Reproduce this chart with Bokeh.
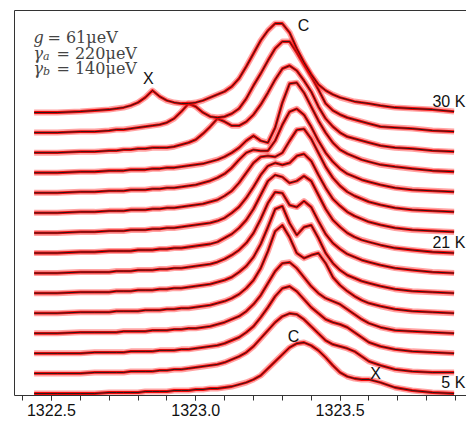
from bokeh.plotting import figure
from bokeh.models import Range1d, FixedTicker, Label, LinearAxis, PrintfTickFormatter
from bokeh.embed import file_html
from bokeh.resources import INLINE

# wavelength grid (nm)
wl = [1322.44, 1322.52, 1322.60, 1322.65,
      1322.700, 1322.725, 1322.750, 1322.775, 1322.800, 1322.825, 1322.850, 1322.875,
      1322.900, 1322.925, 1322.950, 1322.975, 1323.000, 1323.025, 1323.050, 1323.075,
      1323.100, 1323.125, 1323.150, 1323.175, 1323.200, 1323.225, 1323.250, 1323.275,
      1323.300, 1323.325, 1323.350, 1323.375, 1323.400, 1323.425, 1323.450, 1323.475,
      1323.500, 1323.525, 1323.550, 1323.575, 1323.600,
      1323.64, 1323.69, 1323.75, 1323.82, 1323.895]

# spectra, bottom (5 K) to top (30 K), arbitrary intensity units
spec_00 = [0, 0, 0, 0, 1, 1, 1, 1, 1, 2, 2, 2, 2, 3, 3, 3, 4, 4, 5, 5, 6, 7, 9, 11, 14, 18, 25, 32, 39, 46, 50, 51, 48, 43, 36, 28, 21, 17, 15, 14, 14, 11, 6, 3, 1, 0]
spec_01 = [0, 0, 0, 1, 1, 1, 1, 2, 2, 2, 2, 3, 3, 4, 4, 5, 6, 7, 8, 9, 11, 14, 17, 21, 27, 35, 43, 51, 57, 60, 59, 54, 47, 40, 33, 29, 27, 25, 22, 17, 12, 8, 4, 2, 1, 1]
spec_02 = [0, 0, 0, 1, 1, 1, 1, 2, 2, 2, 2, 3, 3, 3, 4, 4, 5, 6, 7, 8, 10, 13, 16, 21, 27, 36, 46, 57, 65, 67, 62, 54, 46, 40, 34, 31, 29, 26, 21, 16, 11, 7, 4, 2, 1, 0]
spec_03 = [0, 0, 1, 1, 1, 1, 2, 2, 2, 2, 3, 3, 3, 4, 4, 5, 5, 6, 7, 9, 11, 14, 17, 22, 29, 38, 50, 62, 70, 71, 65, 56, 47, 40, 35, 32, 29, 24, 19, 14, 10, 6, 3, 2, 1, 0]
spec_04 = [0, 0, 1, 1, 1, 2, 2, 2, 2, 3, 3, 3, 4, 4, 5, 5, 6, 7, 8, 10, 12, 15, 19, 25, 33, 45, 62, 82, 88, 76, 60, 55, 58, 60, 50, 36, 28, 22, 17, 13, 10, 7, 4, 2, 1, 0]
spec_05 = [0, 0, 1, 1, 1, 2, 2, 2, 3, 3, 3, 4, 4, 5, 5, 6, 7, 8, 9, 11, 13, 16, 21, 27, 36, 49, 66, 84, 87, 70, 58, 66, 68, 55, 40, 30, 23, 18, 15, 12, 10, 7, 4, 2, 1, 0]
spec_06 = [0, 0, 1, 1, 1, 2, 2, 2, 3, 3, 3, 4, 4, 5, 5, 6, 7, 8, 9, 11, 14, 18, 23, 30, 40, 54, 70, 81, 80, 68, 66, 72, 66, 52, 39, 30, 24, 19, 16, 13, 11, 8, 5, 3, 1, 0]
spec_07 = [0, 0, 1, 1, 2, 2, 2, 2, 3, 3, 3, 4, 4, 5, 5, 6, 7, 8, 9, 11, 15, 19, 25, 33, 44, 58, 72, 78, 76, 70, 72, 77, 72, 58, 44, 33, 26, 20, 16, 13, 11, 8, 5, 3, 1, 0]
spec_08 = [0, 0, 1, 1, 2, 2, 2, 3, 3, 3, 4, 4, 5, 5, 6, 7, 8, 9, 10, 12, 15, 20, 26, 35, 46, 58, 67, 70, 68, 70, 77, 79, 72, 58, 45, 34, 27, 21, 17, 14, 11, 8, 5, 3, 2, 1]
spec_09 = [0, 0, 1, 1, 2, 2, 2, 3, 3, 3, 4, 4, 5, 5, 6, 7, 8, 9, 11, 13, 17, 22, 30, 40, 50, 56, 57, 56, 60, 72, 83, 84, 74, 60, 46, 35, 27, 21, 17, 14, 11, 8, 5, 3, 2, 1]
spec_10 = [0, 0, 1, 1, 2, 2, 2, 3, 3, 3, 4, 4, 5, 5, 6, 7, 8, 10, 12, 15, 19, 25, 33, 40, 43, 42, 42, 52, 68, 81, 84, 78, 66, 52, 40, 31, 24, 19, 16, 13, 11, 8, 5, 3, 2, 1]
spec_11 = [0, 0, 1, 1, 2, 2, 2, 3, 3, 3, 4, 4, 5, 5, 6, 7, 8, 9, 11, 13, 16, 20, 25, 32, 37, 32, 30, 45, 70, 89, 90, 80, 66, 52, 40, 30, 23, 19, 16, 13, 11, 8, 6, 4, 2, 1]
spec_12 = [0, 0, 1, 1, 2, 2, 3, 3, 4, 4, 5, 5, 5, 6, 8, 10, 13, 19, 26, 34, 31, 27, 27, 31, 38, 48, 60, 73, 84, 87, 82, 72, 61, 46, 34, 26, 20, 16, 14, 12, 10, 7, 5, 4, 2, 1]
spec_13 = [0, 0, 1, 1, 2, 3, 3, 4, 5, 6, 7, 8, 10, 14, 21, 29, 26, 20, 16, 15, 16, 19, 24, 34, 47, 59, 72, 84, 91, 91, 80, 68, 56, 43, 29, 22, 18, 15, 13, 11, 9, 6, 5, 4, 2, 1]
spec_14 = [0, 0, 1, 2, 3, 4, 5, 7, 10, 15, 22, 16, 12, 10, 9, 9, 10, 12, 15, 18, 21, 26, 34, 46, 59, 72, 82, 89, 89, 80, 64, 50, 38, 28, 22, 18, 15, 13, 11, 10, 9, 7, 5, 4, 3, 1]

spectra = [spec_00, spec_01, spec_02, spec_03, spec_04, spec_05, spec_06, spec_07,
           spec_08, spec_09, spec_10, spec_11, spec_12, spec_13, spec_14]

temp_index = [0, 7, 14]
temp_labels = ["5 K", "21 K", "30 K"]

major_ticks = [1322.5, 1323.0, 1323.5]
minor_ticks = [1322.4, 1322.5, 1322.6, 1322.7, 1322.8, 1322.9, 1323.0, 1323.1,
               1323.2, 1323.3, 1323.4, 1323.5, 1323.6, 1323.7, 1323.8, 1323.9]

offset_step = 20.07

p = figure(width=466, height=423, output_backend="svg", toolbar_location=None,
           x_range=Range1d(1322.372, 1323.938), y_range=Range1d(-2, 383),
           min_border_left=14, min_border_right=0, min_border_top=10, min_border_bottom=28,
           y_axis_location=None)
p.grid.visible = False
p.outline_line_color = None
p.background_fill_color = "white"
p.border_fill_color = "white"

ax = p.xaxis[0]
ax.ticker = FixedTicker(ticks=major_ticks, minor_ticks=minor_ticks)
ax.formatter = PrintfTickFormatter(format="%.1f")
ax.axis_line_color = "#333333"
ax.major_tick_line_color = "#333333"
ax.minor_tick_line_color = "#333333"
ax.major_tick_in = 0
ax.major_tick_out = 5
ax.minor_tick_in = 0
ax.minor_tick_out = 5
ax.major_label_text_font = "Liberation Sans"
ax.major_label_text_font_size = "16px"
ax.major_label_text_color = "#111111"
ax.major_label_standoff = 3

for loc in ("left", "above"):
    a = LinearAxis(ticker=FixedTicker(ticks=[]), major_tick_out=0, major_tick_in=0,
                   minor_tick_out=0, minor_tick_in=0, major_label_standoff=0,
                   axis_line_color="#333333")
    p.add_layout(a, loc)

for i, s in enumerate(spectra):
    y = [v + i * offset_step for v in s]
    p.line(wl, y, line_color="#ff1a1a", line_width=6, line_alpha=0.4, line_join="round")
    p.line(wl, y, line_color="#f00000", line_width=2.8, line_alpha=0.95, line_join="round")
    p.line(wl, y, line_color="#1a1a1a", line_width=0.9, line_join="round")

for idx, t in zip(temp_index, temp_labels):
    p.add_layout(Label(x=1323.934, y=idx * offset_step + 11, text=t, text_align="right",
                       text_baseline="middle", text_font="Liberation Sans",
                       text_font_size="16px", text_color="#111111"))

marks = [("X", 1322.836, 315), ("C", 1323.373, 368), ("C", 1323.339, 57), ("X", 1323.623, 20)]
for t, x, y in marks:
    p.add_layout(Label(x=x, y=y, text=t, text_align="center", text_baseline="middle",
                       text_font="Liberation Sans", text_font_size="16px", text_color="#111111"))

serif = "DejaVu Serif"
def px2nm(px):
    return 1322.5 + (px - 51) / 288.6

# parameter annotation
p.add_layout(Label(x=px2nm(33), y=356, text="g", text_font=serif, text_font_style="italic",
                   text_font_size="16px", text_baseline="alphabetic"))
p.add_layout(Label(x=px2nm(47), y=356, text="= 61μeV", text_font=serif,
                   text_font_size="16px", text_baseline="alphabetic"))
for yb, sub, val in [(340.3, "a", "= 220μeV"), (325.3, "b", "= 140μeV")]:
    p.add_layout(Label(x=px2nm(33), y=yb, text="γ", text_font=serif, text_font_style="italic",
                       text_font_size="16px", text_baseline="alphabetic"))
    p.add_layout(Label(x=px2nm(42.5), y=yb - 3.5, text=sub, text_font=serif, text_font_style="italic",
                       text_font_size="11px", text_baseline="alphabetic"))
    p.add_layout(Label(x=px2nm(56), y=yb, text=val, text_font=serif,
                       text_font_size="16px", text_baseline="alphabetic"))

open("out.html", "w").write(file_html(p, INLINE))
